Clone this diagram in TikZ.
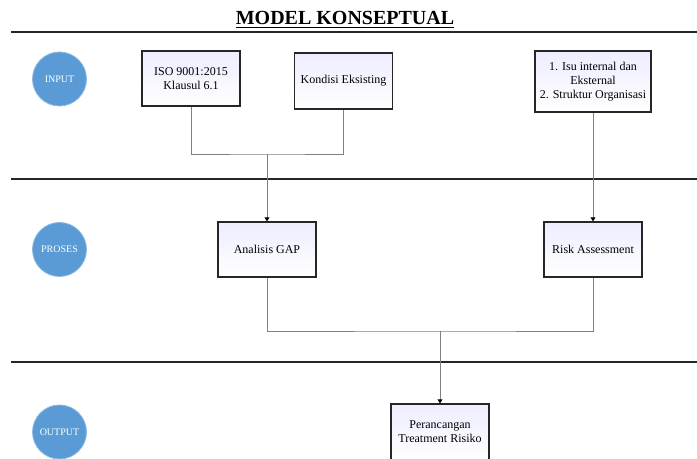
\documentclass[tikz,border=0pt]{standalone}
\usepackage{fontspec}
\setmainfont{Liberation Serif}
\usetikzlibrary{arrows.meta}
\definecolor{laneblue}{RGB}{91,155,213}
\tikzset{%
	lane/.style={circle, minimum size=40.5pt, inner sep=0pt, fill=laneblue,%
		draw=laneblue!70!white, line width=0.6pt, text=white, font=\fontsize{7.5}{9}\selectfont},
	box/.style={draw=black!85, line width=0.9pt, rectangle, minimum width=73.5pt,%
		minimum height=41.25pt, align=center, inner sep=2pt, top color=blue!7,%
		bottom color=white, font=\fontsize{9}{10.5}\selectfont},
	connector/.style={draw=black!50, line width=0.6pt},
	sel/.style={connector, -{Triangle[color=black, length=3pt, width=3.6pt]}},
	sep/.style={line width=1.8pt, draw=black!85}
}
\begin{document}
\begin{tikzpicture}[x=0.75pt, y=-0.75pt]
	\useasboundingbox (0,0) rectangle (697,459);
	\clip (0,0) rectangle (697,459);

	\node[anchor=base, inner sep=0pt, font=\fontsize{15}{18}\selectfont\bfseries] (title) at (345,25) {\underline{MODEL KONSEPTUAL}};

	% lanes
	\draw[sep] (11,32) -- (697,32);
	\draw[sep] (11,179) -- (697,179);
	\draw[sep] (11,362) -- (697,362);
	\node[lane] (in) at (59.5,79) {INPUT};
	\node[lane] (pro) at (59.5,249.5) {PROSES};
	\node[lane] (out) at (59.5,432) {OUTPUT};

	\node[box] (iso) at (191,78.5) {ISO 9001:2015\\Klausul 6.1};
	\node[box, minimum height=42pt] (kon) at (343.5,81) {Kondisi Eksisting};
	\node[box, minimum width=87pt, minimum height=45.75pt] (isu) at (593,81.5) {1. Isu internal dan\\Eksternal\\2. Struktur Organisasi};
	\node[box] (gap) at (267,249.5) {Analisis GAP};
	\node[box] (risk) at (593,249.5) {Risk Assessment};
	\node[box, minimum height=42pt] (treat) at (440,432) {Perancangan\\Treatment Risiko};

	\coordinate (j1) at (267,154);
	\coordinate (j2) at (440,331);

	\draw[connector] (iso.south) |- (j1) -| (kon.south);
	\draw[sel] (j1) -- (gap.north);
	\draw[sel] (isu.south) -- (risk.north);
	\draw[connector] (gap.south) |- (j2) -| (risk.south);
	\draw[sel] (j2) -- (treat.north);
\end{tikzpicture}
\end{document}
